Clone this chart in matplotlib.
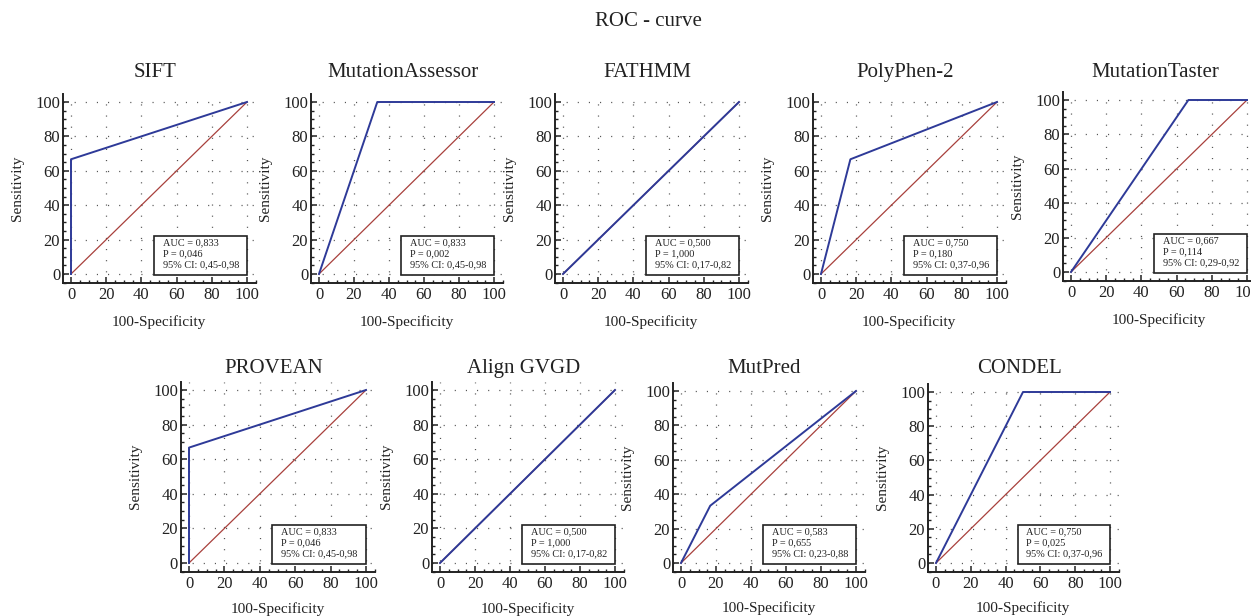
import matplotlib
matplotlib.use("Agg")
import matplotlib.pyplot as plt
from matplotlib.patches import Rectangle
from matplotlib.ticker import MultipleLocator

plt.rcParams['font.family'] = ['Liberation Serif', 'DejaVu Serif']

# ---------------- data ----------------
names = ["SIFT", "MutationAssessor", "FATHMM", "PolyPhen-2", "MutationTaster",
         "PROVEAN", "Align GVGD", "MutPred", "CONDEL"]
fpr_sift = [0, 0, 100]
tpr_sift = [0, 66.7, 100]
fpr_ma = [0, 33.3, 100]
tpr_ma = [0, 100, 100]
fpr_fathmm = [0, 100]
tpr_fathmm = [0, 100]
fpr_pph = [0, 16.7, 100]
tpr_pph = [0, 66.7, 100]
fpr_mt = [0, 66.7, 100]
tpr_mt = [0, 100, 100]
fpr_provean = [0, 0, 100]
tpr_provean = [0, 66.7, 100]
fpr_align = [0, 100]
tpr_align = [0, 100]
fpr_mutpred = [0, 16.7, 100]
tpr_mutpred = [0, 33.3, 100]
fpr_condel = [0, 50, 100]
tpr_condel = [0, 100, 100]
fprs = [fpr_sift, fpr_ma, fpr_fathmm, fpr_pph, fpr_mt,
        fpr_provean, fpr_align, fpr_mutpred, fpr_condel]
tprs = [tpr_sift, tpr_ma, tpr_fathmm, tpr_pph, tpr_mt,
        tpr_provean, tpr_align, tpr_mutpred, tpr_condel]
auc = [0.833, 0.833, 0.500, 0.750, 0.667, 0.833, 0.500, 0.583, 0.750]
pval = [0.046, 0.002, 1.000, 0.180, 0.114, 0.046, 1.000, 0.655, 0.025]
ci_low = [0.45, 0.45, 0.17, 0.37, 0.29, 0.45, 0.17, 0.23, 0.37]
ci_high = [0.98, 0.98, 0.82, 0.96, 0.92, 0.98, 0.82, 0.88, 0.96]
diag_x = [0, 100]
diag_y = [0, 100]
ticks = [0, 20, 40, 60, 80, 100]

# ---------------- layout (pixels) ----------------
W, H = 1251, 616
# (x of data 0, x of data 100, y of data 0, y of data 100)
panel_px = [
    (71, 247, 274, 102),
    (319, 494, 274, 102),
    (563, 739, 274, 102),
    (821, 997, 274, 102),
    (1071, 1247, 272, 100),
    (189, 366, 563, 390),
    (440, 615, 563, 390),
    (681, 856, 563, 391),
    (936, 1110, 563, 392),
]
title_base = [77] * 5 + [373] * 4
xlabel_off = [40] * 5 + [37] * 4
XL = (-4.6, 105.1)
YL = (-5.0, 104.7)

BLUE = '#2e3a98'
RED = '#a8403c'
TXT = '#222222'

fig = plt.figure(figsize=(W / 100, H / 100), dpi=100)
fig.text(648 / W, 1 - 22 / H, "ROC - curve", ha='center', va='center',
         fontsize=15, color=TXT)

def fmt(v, nd):
    return f"{v:.{nd}f}".replace('.', ',')

for i, name in enumerate(names):
    x0, x100, y0, y100 = panel_px[i]
    sx = (x100 - x0) / 100.0
    sy = (y0 - y100) / 100.0
    left = x0 + XL[0] * sx
    right = x0 + XL[1] * sx
    bot = y0 - YL[0] * sy
    top = y0 - YL[1] * sy
    ax = fig.add_axes([left / W, 1 - bot / H, (right - left) / W, (bot - top) / H])
    ax.set_xlim(*XL)
    ax.set_ylim(*YL)
    for s in ('top', 'right'):
        ax.spines[s].set_visible(False)
    for s in ('left', 'bottom'):
        ax.spines[s].set_linewidth(1.4)
        ax.spines[s].set_color('#222222')
    ax.set_xticks(ticks)
    ax.set_yticks(ticks)
    ax.xaxis.set_minor_locator(MultipleLocator(5))
    ax.yaxis.set_minor_locator(MultipleLocator(5))
    ax.tick_params(which='major', direction='in', length=4.5, width=1.1,
                   labelsize=12, labelcolor=TXT, color='#222222')
    ax.tick_params(which='minor', direction='in', length=2.5, width=1.0,
                   color='#222222')
    ax.tick_params(axis='x', which='major', pad=3)
    ax.tick_params(axis='y', which='major', pad=2)
    ax.grid(True, which='major', color='#555555', linewidth=0.9,
            linestyle=(0, (0.9, 8)))
    ax.set_axisbelow(True)

    ax.plot(diag_x, diag_y, color=RED, lw=0.9, zorder=3)
    ax.plot(fprs[i], tprs[i], color=BLUE, lw=1.4, zorder=4)

    ax.add_patch(Rectangle((47, -0.5), 53, 22.5, facecolor='white',
                           edgecolor='#222222', lw=1.2, zorder=5))
    lines = [f"AUC = {fmt(auc[i], 3)}", f"P = {fmt(pval[i], 3)}",
             f"95% CI: {fmt(ci_low[i], 2)}-{fmt(ci_high[i], 2)}"]
    for k, (t, yy) in enumerate(zip(lines, [18.0, 11.6, 5.2])):
        ax.text(52, yy, t, fontsize=7.4, color=TXT, va='center', ha='left',
                zorder=6)

    ax.set_xlabel("100-Specificity", fontsize=11, color=TXT)
    ax.set_ylabel("Sensitivity", fontsize=11, color=TXT)
    axw = right - left
    axh = bot - top
    ax.xaxis.set_label_coords((x0 + 50 * sx - left) / axw, -xlabel_off[i] / axh)
    ax.xaxis.label.set_va('center')
    ax.yaxis.set_label_coords(-45 / axw, 0.5)
    ax.yaxis.label.set_va('center')

    fig.text((x0 + x100) / 2 / W - 4 / W, 1 - title_base[i] / H, name,
             ha='center', va='baseline', fontsize=15, color=TXT)

fig.savefig("out.png", dpi=100)
